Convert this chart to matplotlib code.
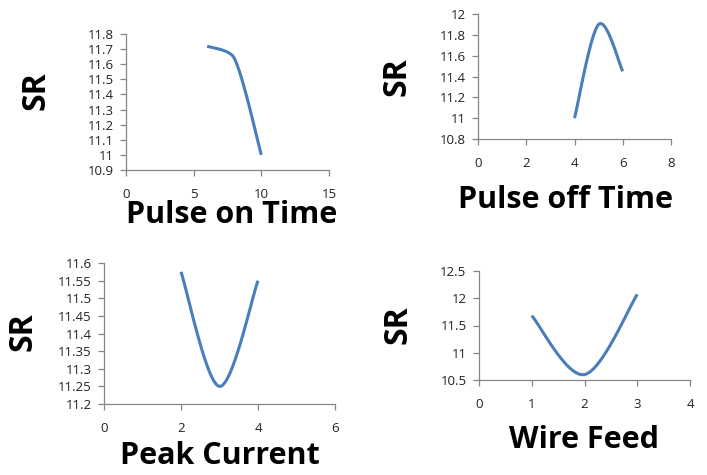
import matplotlib.pyplot as plt
import numpy as np

pulse_on = [6, 8, 10]
sr_pulse_on = [11.72, 11.64, 11.0]

pulse_off = [4, 5, 6]
sr_pulse_off = [11.0, 11.9, 11.45]

peak_current = [2, 3, 4]
sr_peak_current = [11.575, 11.25, 11.55]

wire_feed = [1, 2, 3]
sr_wire_feed = [11.68, 10.6, 12.07]

W, H = 707, 475
blue = '#4a7ebb'
font = 'Open Sans'


def smooth(x, y, kx, ky, n=40):
    # Excel-like smoothed line: Catmull-Rom in pixel space,
    # control arms capped at a third of the adjacent segment
    p = np.column_stack([np.array(x) * kx, np.array(y) * ky]).astype(float)
    m = len(p)
    pts = [p[0]]
    for i in range(m - 1):
        p0 = p[max(i - 1, 0)]
        p1 = p[i]
        p2 = p[i + 1]
        p3 = p[min(i + 2, m - 1)]
        L = np.hypot(*(p2 - p1)) / 3
        v1 = (p2 - p0) / 6
        v2 = (p3 - p1) / 6
        if np.hypot(*v1) > L:
            v1 = v1 * L / np.hypot(*v1)
        if np.hypot(*v2) > L:
            v2 = v2 * L / np.hypot(*v2)
        c1 = p1 + v1
        c2 = p2 - v2
        t = np.linspace(0, 1, n)[1:, None]
        seg = ((1 - t) ** 3) * p1 + 3 * ((1 - t) ** 2) * t * c1 + 3 * (1 - t) * t ** 2 * c2 + t ** 3 * p2
        pts.extend(seg)
    pts = np.array(pts)
    return pts[:, 0] / kx, pts[:, 1] / ky


def panel(box, x, y, xlim, xstep, ylim, ystep, xlabel, xl_pos, sr_pos):
    l, r, t, b = box
    ax = fig.add_axes([l / W, 1 - b / H, (r - l) / W, (b - t) / H])
    kx = (r - l) / (xlim[1] - xlim[0])
    ky = (b - t) / (ylim[1] - ylim[0])
    sx, sy = smooth(x, y, kx, ky)
    ax.plot(sx, sy, color=blue, lw=2.2, solid_capstyle='butt')
    ax.set_xlim(xlim)
    ax.set_ylim(ylim)
    ax.set_xticks(np.arange(xlim[0], xlim[1] + xstep / 2, xstep))
    yt = np.arange(ylim[0], ylim[1] + ystep / 2, ystep)
    ax.set_yticks(yt)
    ax.set_yticklabels(['{:g}'.format(round(v, 2)) for v in yt])
    for s in ['top', 'right']:
        ax.spines[s].set_visible(False)
    for s in ['left', 'bottom']:
        ax.spines[s].set_color('#868686')
        ax.spines[s].set_linewidth(0.9)
    ax.tick_params(axis='x', length=4, width=0.9, color='#868686', pad=9,
                   labelsize=9.5, labelcolor='#222222')
    ax.tick_params(axis='y', length=4, width=0.9, color='#868686', pad=5,
                   labelsize=9.5, labelcolor='#222222')
    for lab in ax.get_xticklabels() + ax.get_yticklabels():
        lab.set_family(font)
    fig.text(xl_pos[0] / W, 1 - xl_pos[1] / H, xlabel, ha='center', va='center',
             fontsize=22, fontweight='bold', family=font)
    fig.text(sr_pos[0] / W, 1 - sr_pos[1] / H, 'SR', ha='center', va='center',
             rotation=90, fontsize=23, fontweight='bold', family=font)
    return ax


fig = plt.figure(figsize=(W / 100, H / 100), dpi=100)

panel((126, 329, 34, 170), pulse_on, sr_pulse_on, (0, 15), 5, (10.9, 11.8), 0.1,
      'Pulse on Time', (232, 215), (36, 91))
panel((478, 671, 14, 139), pulse_off, sr_pulse_off, (0, 8), 2, (10.8, 12.0), 0.2,
      'Pulse off Time', (566, 200), (397, 77))
panel((104, 335, 263, 404), peak_current, sr_peak_current, (0, 6), 2, (11.2, 11.6), 0.05,
      'Peak Current', (220, 456), (23, 332))
panel((479, 690, 271, 380), wire_feed, sr_wire_feed, (0, 4), 1, (10.5, 12.5), 0.5,
      'Wire Feed', (584, 440), (398, 325))

plt.savefig('out.png', dpi=100)
